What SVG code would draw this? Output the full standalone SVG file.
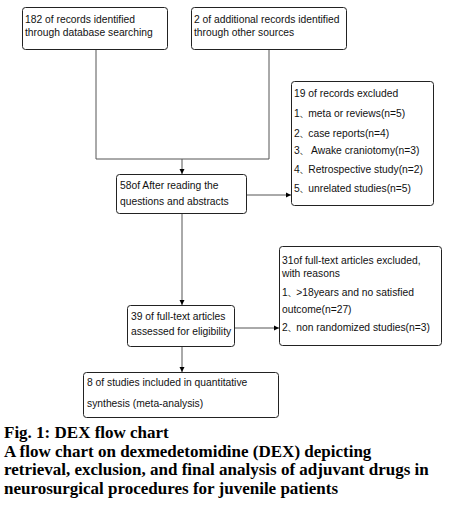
<svg xmlns="http://www.w3.org/2000/svg" width="458" height="505" viewBox="0 0 458 505">
<defs>
<style>
.box{fill:#fff;stroke:#222;stroke-width:1}
.t{font-family:"Liberation Sans",Arial,"Noto Sans CJK SC",sans-serif;font-size:10.3px;fill:#111}
.k{font-size:8.5px}
.c{font-family:"Liberation Serif","Times New Roman",serif;font-size:17px;font-weight:bold;fill:#000}
.ln{stroke:#555;stroke-width:1;fill:none}
</style>
<marker id="ah" markerWidth="6" markerHeight="6" refX="5" refY="3" orient="auto" markerUnits="userSpaceOnUse">
<path d="M0,0.5 L5,3 L0,5.5 Z" fill="#000"/>
</marker>
</defs>
<rect width="458" height="505" fill="#fff"/>
<g id="connectors">
<path class="ln" d="M96,50 V159 H269 V50"/>
<path class="ln" d="M182,159 V174" marker-end="url(#ah)"/>
<path class="ln" d="M247,195 H291" marker-end="url(#ah)"/>
<path class="ln" d="M182,214 V305" marker-end="url(#ah)"/>
<path class="ln" d="M235,328 H279" marker-end="url(#ah)"/>
<path class="ln" d="M182,347 V372" marker-end="url(#ah)"/>
</g>
<g id="n1">
<rect class="box" x="22.5" y="7.5" width="145" height="42" rx="3"/>
<text class="t" x="25" y="23">182 of records identified</text>
<text class="t" x="25" y="36">through database searching</text>
</g>
<g id="n2">
<rect class="box" x="191.5" y="7.5" width="155" height="42" rx="3"/>
<text class="t" x="194" y="23">2 of additional records identified</text>
<text class="t" x="194" y="36">through other sources</text>
</g>
<g id="n3">
<rect class="box" x="116.5" y="174.5" width="130" height="39" rx="3"/>
<text class="t" x="120" y="189">58of After reading the</text>
<text class="t" x="120" y="205">questions and abstracts</text>
</g>
<g id="n4">
<rect class="box" x="291.5" y="81.5" width="142" height="124" rx="3"/>
<text class="t" x="294" y="97">19 of records excluded</text>
<text class="t" x="294" y="117">1<tspan class="k">、</tspan>meta or reviews(n=5)</text>
<text class="t" x="294" y="137">2<tspan class="k">、</tspan>case reports(n=4)</text>
<text class="t" x="294" y="154">3<tspan class="k">、</tspan> Awake craniotomy(n=3)</text>
<text class="t" x="294" y="173">4<tspan class="k">、</tspan>Retrospective study(n=2)</text>
<text class="t" x="294" y="192">5<tspan class="k">、</tspan>unrelated studies(n=5)</text>
</g>
<g id="n5">
<rect class="box" x="127.5" y="305.5" width="107" height="41" rx="3"/>
<text class="t" x="131" y="320">39 of full-text articles</text>
<text class="t" x="131" y="335">assessed for eligibility</text>
</g>
<g id="n6">
<rect class="box" x="279.5" y="246.5" width="162" height="99" rx="3"/>
<text class="t" x="282" y="264">31of full-text articles excluded,</text>
<text class="t" x="282" y="277">with reasons</text>
<text class="t" x="282" y="296">1<tspan class="k">、</tspan>&gt;18years and no satisfied</text>
<text class="t" x="282" y="313">outcome(n=27)</text>
<text class="t" x="282" y="331">2<tspan class="k">、</tspan>non randomized studies(n=3)</text>
</g>
<g id="n7">
<rect class="box" x="83.5" y="372.5" width="195" height="45" rx="3"/>
<text class="t" x="87" y="386">8 of studies included in quantitative</text>
<text class="t" x="87" y="407">synthesis (meta-analysis)</text>
</g>
<g id="caption">
<text class="c" x="4" y="438">Fig. 1: DEX flow chart</text>
<text class="c" x="4" y="457">A flow chart on dexmedetomidine (DEX) depicting</text>
<text class="c" x="4" y="475">retrieval, exclusion, and final analysis of adjuvant drugs in</text>
<text class="c" x="4" y="494">neurosurgical procedures for juvenile patients</text>
</g>
</svg>
